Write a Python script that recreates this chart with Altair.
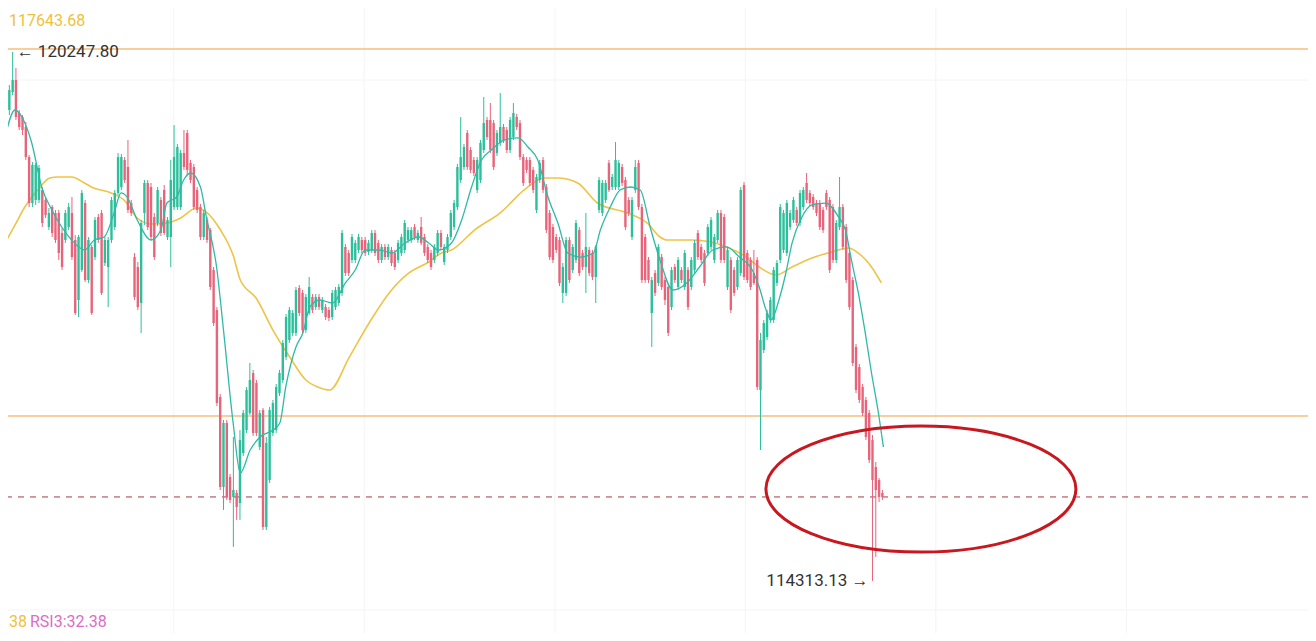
import altair as alt
import pandas as pd

# ---------------- candle data (BTC/USDT) ----------------
opens = [
    119294, 119597, 119799, 119933, 119563, 119518, 119406, 119069, 118553, 118587,
    118587, 118699, 118587, 118284, 118508, 118441, 118441, 118217, 118138, 118284,
    118441, 118138, 117465, 117802, 118553, 117689, 118060, 117947, 118396, 118441,
    117880, 117835, 118138, 118284, 118666, 118733, 119036, 118957, 118553, 117947,
    117835, 117431, 118441, 118778, 118733, 118396, 118329, 118587, 118699, 118172,
    118172, 118508, 118508, 118508, 119114, 119339, 119002, 118957, 118699, 118508,
    118172, 118363, 118250, 117802, 117353, 116377, 115367, 116085, 115479, 115255,
    115300, 115187, 115748, 116006, 116197, 116646, 116534, 115816, 116231, 114918,
    115445, 115973, 116006, 116421, 116567, 116825, 117016, 117095, 117095, 117600,
    117544, 117128, 117319, 117499, 117386, 117499, 117353, 117386, 117353, 117274,
    117386, 117431, 117544, 118060, 117992, 117914, 117914, 118026, 118138, 118138,
    118004, 118026, 118217, 118105, 117914, 118060, 117947, 118026, 117992, 117914,
    117992, 118026, 118138, 118138, 118284, 118138, 118284, 118172, 118060, 117992,
    117914, 117992, 118217, 117891, 118026, 118172, 118284, 118508, 118811, 118957,
    119339, 119148, 119036, 118699, 118811, 119148, 119485, 119485, 119451, 119114,
    119227, 119406, 119372, 119148, 119294, 119518, 119451, 119069, 119036, 119036,
    118924, 118475, 118811, 119036, 118733, 118441, 118284, 118172, 118138, 117544,
    117544, 118138, 117802, 117914, 118250, 117992, 117835, 118026, 117992, 117723,
    118475, 118441, 118587, 119002, 118733, 118733, 118733, 118957, 118811, 118587,
    118172, 118699, 119002, 118508, 118172, 117914, 117319, 117768, 117656, 117947,
    117689, 117611, 117386, 117835, 117611, 117802, 117611, 117802, 117611, 117802,
    118217, 118060, 117992, 117992, 118060, 117914, 118138, 118441, 118396, 117611,
    117914, 117802, 117611, 117768, 118755, 117992, 117914, 117768, 117914, 116455,
    116904, 117050, 117241, 117241, 117656, 117914, 118026, 117992, 118284, 118363,
    118475, 118329, 118508, 118778, 118666, 118621, 118553, 118553, 118475, 118666,
    118587, 118508, 117914, 118284, 118508, 118284, 117992, 117689, 116938, 116713,
    116489, 116343, 116197, 115894, 115591, 115445, 115300,
]
highs = [
    119821, 119877, 120247.80, 120068, 119597, 119541, 119462, 119092, 119013, 119002,
    118980, 118733, 118621, 118497, 118531, 118475, 118475, 118273, 118475, 118553,
    118621, 118194, 118194, 118699, 118587, 118172, 118082, 118396, 118430, 118475,
    118172, 118172, 118621, 118699, 119114, 119103, 119069, 119260, 118587, 117992,
    117891, 118363, 118811, 118811, 118778, 118441, 118733, 118621, 118755, 118396,
    119036, 119428, 119215, 119148, 119372, 119372, 119036, 118991, 118733, 118542,
    118475, 118396, 118273, 117835, 117386, 116410, 116119, 116119, 115513, 115928,
    115333, 116006, 116231, 116489, 116758, 116680, 116567, 116231, 116253, 115928,
    116264, 116343, 116522, 116680, 117016, 117308, 117386, 117353, 117611, 117633,
    117577, 117532, 117723, 117532, 117532, 117532, 117499, 117420, 117386, 117577,
    117611, 117644, 118250, 118093, 118026, 118206, 118138, 118206, 118172, 118172,
    118138, 118250, 118250, 118138, 118093, 118093, 118093, 118060, 118026, 118138,
    118206, 118363, 118284, 118284, 118318, 118250, 118396, 118206, 118093, 118026,
    118093, 118250, 118250, 118093, 118206, 118475, 118587, 118991, 119518, 119215,
    119372, 119182, 119069, 119069, 119260, 119743, 119518, 119675, 119485, 119372,
    119788, 119440, 119406, 119518, 119675, 119552, 119485, 119103, 119069, 119069,
    118957, 118879, 119036, 119069, 118766, 118475, 118318, 118206, 118172, 117880,
    118172, 118172, 118093, 118363, 118284, 118026, 118441, 118060, 118026, 118082,
    118845, 118811, 118811, 119036, 118879, 119238, 119036, 118991, 118845, 118621,
    118621, 119036, 119036, 118542, 118206, 117947, 117723, 117802, 118093, 117981,
    117723, 117644, 117835, 117869, 117947, 117835, 118026, 117835, 117947, 118138,
    118250, 118093, 118026, 118318, 118396, 118206, 118475, 118475, 118430, 118060,
    117947, 117835, 117947, 118733, 118789, 118026, 117947, 118026, 117947, 117095,
    117241, 117353, 117499, 117835, 117914, 118542, 118475, 118587, 118475, 118621,
    118508, 118699, 118733, 118890, 118699, 118654, 118587, 118587, 118508, 118699,
    118621, 118542, 118363, 118845, 118542, 118318, 118026, 117723, 116971, 116747,
    116522, 116377, 116231, 115950, 115647, 115468, 115333,
]
lows = [
    119260, 119541, 119765, 119485, 119372, 119316, 119036, 118508, 118508, 118531,
    118553, 118284, 118385, 118250, 118172, 118105, 117914, 117802, 118105, 118250,
    117914, 117297, 117274, 117779, 117667, 117656, 117297, 117914, 118105, 117521,
    117846, 117386, 118105, 118250, 118643, 118699, 118778, 118441, 118407, 117465,
    117353, 117095, 118306, 118250, 118138, 117914, 118295, 118183, 118194, 118138,
    117835, 118475, 118475, 118475, 118924, 118867, 118778, 118475, 118441, 118138,
    118138, 118105, 117577, 117173, 116276, 115333, 115109, 115221, 115187, 114694,
    114997, 114997, 115715, 115973, 116175, 115939, 115939, 115782, 114884, 114884,
    115412, 115939, 115973, 116388, 116534, 116792, 116983, 117061, 117061, 117285,
    117095, 117095, 117297, 117319, 117353, 117353, 117319, 117241, 117229, 117241,
    117353, 117398, 117510, 117734, 117734, 117880, 117880, 117992, 117992, 117959,
    117970, 117992, 117959, 117880, 117880, 117914, 117914, 117846, 117802, 117880,
    117959, 117992, 118105, 118105, 118138, 118105, 118082, 117959, 117880, 117802,
    117880, 117959, 118026, 117858, 117992, 118138, 118250, 118475, 118778, 118924,
    118924, 118890, 118856, 118666, 118778, 119114, 119260, 119114, 118924, 119081,
    119193, 119227, 119114, 119114, 119260, 119372, 119036, 118744, 118890, 118744,
    118666, 118441, 118778, 118666, 118217, 117914, 117880, 117992, 117622, 117431,
    117510, 117656, 117768, 117880, 117734, 117802, 117544, 117734, 117689, 117431,
    118441, 118407, 118553, 118677, 118699, 118699, 118699, 118744, 118250, 118407,
    118138, 118666, 118475, 117656, 117656, 117656, 116938, 117510, 117622, 117577,
    117409, 117061, 117353, 117656, 117577, 117656, 117577, 117353, 117577, 117768,
    117914, 117880, 117622, 117959, 118026, 117880, 118105, 117880, 117880, 117577,
    117319, 117510, 117577, 117734, 117689, 117656, 117577, 117633, 116455, 115782,
    116870, 117016, 117207, 117207, 117622, 117880, 117992, 117959, 118250, 118329,
    118295, 118295, 118475, 118553, 118520, 118475, 118407, 118250, 118217, 118475,
    117768, 117880, 117880, 118250, 118026, 117656, 117353, 116724, 116421, 116309,
    116163, 115894, 115636, 114313.13, 114582, 115199, 115221,
]
closes = [
    119765, 119821, 119933, 119518, 119406, 119372, 119069, 118553, 118980, 118980,
    118946, 118329, 118419, 118441, 118217, 118138, 117992, 117835, 118441, 118508,
    117947, 117319, 118172, 118666, 117689, 118138, 117319, 118363, 118138, 117544,
    118138, 118138, 118587, 118666, 119069, 119069, 118811, 118475, 118441, 117499,
    117386, 118329, 118778, 118284, 118172, 117947, 118699, 118217, 118217, 118363,
    118811, 119069, 119182, 119114, 118957, 118924, 118811, 118508, 118475, 118172,
    118441, 118138, 117611, 117207, 116309, 115367, 116085, 115255, 115221, 115333,
    115143, 115894, 116197, 116455, 116567, 115973, 115973, 116197, 114918, 115861,
    116231, 116309, 116489, 116646, 116983, 117274, 117353, 117319, 117577, 117319,
    117128, 117499, 117611, 117353, 117499, 117386, 117465, 117274, 117263, 117544,
    117577, 117611, 118217, 117768, 117768, 118172, 118105, 118172, 118026, 117992,
    118105, 118217, 117992, 117914, 118060, 117947, 118060, 117880, 117835, 118105,
    118172, 118329, 118250, 118250, 118172, 118217, 118105, 117992, 117914, 117835,
    118060, 118217, 118060, 118060, 118172, 118441, 118553, 118957, 119069, 119182,
    118957, 118924, 118890, 119036, 119227, 119451, 119294, 119148, 118957, 119339,
    119406, 119260, 119148, 119485, 119563, 119406, 119069, 118778, 118924, 118778,
    118699, 118845, 119002, 118699, 118250, 117947, 117914, 118026, 117656, 117835,
    118138, 117689, 118060, 118329, 117768, 117835, 118060, 117768, 117723, 118060,
    118811, 118778, 118778, 118699, 118845, 119036, 119002, 118778, 118284, 118441,
    118587, 118957, 118508, 117689, 117689, 117689, 117689, 117544, 118060, 117611,
    117465, 117095, 117802, 117689, 117914, 117689, 117992, 117386, 117914, 118105,
    117947, 117914, 117656, 118284, 118363, 118172, 118441, 117914, 117914, 118026,
    117353, 117544, 117914, 118699, 117723, 117689, 117611, 117656, 116489, 117016,
    117207, 117319, 117465, 117802, 117880, 118508, 118441, 118553, 118441, 118587,
    118329, 118666, 118699, 118587, 118553, 118508, 118441, 118284, 118250, 118508,
    117802, 117914, 118329, 118508, 118060, 117689, 117386, 116758, 116455, 116343,
    116197, 115928, 115670, 115445, 115333, 115255, 115255,
]

# short moving average (teal) and long moving average (yellow)
ma_short_bar = [-0.3, 2.7, 4.8, 7.8, 10.8, 13.9, 16.9, 19.9, 23.8, 26.8, 29.8, 32.8, 34.9, 36.7,
                39.8, 44.0, 47.0, 48.8, 51.8, 53.9, 56.0, 59.0, 60.8, 63.9, 66.0, 69.0, 71.1,
                74.1, 77.1, 81.0, 83.1, 84.9, 88.0, 90.1, 92.2, 95.2, 99.1, 103.0, 106.0, 109.0,
                113.3, 117.2, 121.1, 125.3, 128.3, 131.3, 135.2, 138.3, 141.3, 144.3, 147.3,
                151.2, 155.4, 158.4, 161.4, 164.5, 167.5, 170.5, 174.4, 178.3, 180.4, 183.4,
                186.4, 189.5, 192.5, 195.5, 198.5, 202.4, 206.6, 210.5, 214.5, 218.7, 222.6,
                226.5, 228.6, 230.7, 232.2, 234.6, 236.7, 238.6, 241.6, 244.6, 248.8, 252.7,
                254.8, 256.6, 258.7, 260.8, 262.7, 264.8, 266.3]
ma_short_val = [119294, 119597, 119518, 119227, 118733, 118475, 118284, 118138, 118026, 118138,
                118172, 118441, 118666, 118621, 118363, 118138, 118250, 118553, 118621, 118811,
                118890, 118733, 118396, 117835, 117128, 116062, 115524, 115782, 115928, 116006,
                116085, 116489, 116938, 117095, 117386, 117465, 117431, 117656, 117802, 118026,
                118026, 117992, 118105, 118172, 118105, 118026, 118105, 118363, 118733, 119036,
                119148, 119260, 119283, 119182, 119036, 118621, 118329, 117992, 117947, 117992,
                118250, 118508, 118699, 118733, 118699, 118284, 117914, 117577, 117656, 117835,
                118026, 118060, 117947, 117802, 117611, 117353, 117241, 117465, 117768, 118105,
                118396, 118531, 118553, 118396, 118250, 117914, 117544, 117095, 116646, 116197,
                115816]
ma_long_bar = [-0.3, 2.7, 5.7, 9.6, 13.3, 15.7, 19.9, 23.8, 25.9, 31.9, 35.8, 39.8, 44.0, 48.8,
               53.0, 57.8, 60.8, 65.1, 69.0, 71.1, 75.9, 81.0, 86.1, 91.0, 94.6, 98.2, 104.2,
               110.2, 116.3, 122.3, 128.3, 132.2, 135.2, 142.2, 150.3, 157.2, 163.3, 167.5,
               173.5, 179.5, 188.6, 194.6, 198.5, 200.6, 208.4, 218.7, 224.7, 228.6, 233.7,
               238.6, 244.6, 250.6, 255.7, 258.7, 262.7, 265.7]
ma_long_val = [118105, 118306, 118508, 118699, 118834, 118845, 118845, 118778, 118733, 118666,
               118587, 118385, 118318, 118329, 118385, 118497, 118452, 118250, 117959, 117689,
               117487, 117128, 116825, 116567, 116489, 116455, 116825, 117207, 117544, 117768,
               117891, 117992, 118026, 118250, 118452, 118699, 118834, 118834, 118778, 118553,
               118441, 118329, 118172, 118138, 118138, 118060, 117947, 117835, 117745, 117835,
               117936, 118004, 118048, 117992, 117835, 117656]

level_prices = [120281, 116163]      # orange horizontal levels
last_price = 115255                  # dashed current-price line
high_price = 120247.80
low_price = 114313.13
high_bar = 2
low_bar = 263
ellipse_bar = 277.7
ellipse_price = 115344
grid_bars = [50.9, 108.7, 166.6, 224.4, 282.2, 340.1]
grid_prices = [119933, 113987]

# ---------------- build tables ----------------
n = len(opens)
df = pd.DataFrame({
    "bar": list(range(n)), "open": opens, "high": highs, "low": lows, "close": closes,
})
df["dir"] = ["up" if c >= o else "down" for o, c in zip(opens, closes)]
ma_s = pd.DataFrame({"bar": ma_short_bar, "v": ma_short_val})
ma_l = pd.DataFrame({"bar": ma_long_bar, "v": ma_long_val})

GREEN = "#2cbf9b"
RED = "#e8647b"

xs = alt.Scale(domain=[2.1084, 393.6747], nice=False, zero=False)
ys = alt.Scale(domain=[113728.7, 120741.2], nice=False, zero=False)
cs = alt.Scale(domain=["up", "down"], range=[GREEN, RED])

base = alt.Chart(df)

# faint grid
grid_v = alt.Chart(pd.DataFrame({"bar": grid_bars})).mark_rule(
    color="#f4f4f4", strokeWidth=1).encode(x=alt.X("bar:Q", scale=xs, axis=None))
grid_h = alt.Chart(pd.DataFrame({"p": grid_prices})).mark_rule(
    color="#f4f4f4", strokeWidth=1).encode(y=alt.Y("p:Q", scale=ys, axis=None))

levels = alt.Chart(pd.DataFrame({"p": level_prices})).mark_rule(
    color="#f4bf7e", strokeWidth=1.6).encode(y=alt.Y("p:Q", scale=ys, axis=None))
dashed = alt.Chart(pd.DataFrame({"p": [last_price]})).mark_rule(
    color="#a33a48", strokeWidth=1, strokeDash=[6, 6]).encode(
    y=alt.Y("p:Q", scale=ys, axis=None))

wicks = base.mark_rule(strokeWidth=1, clip=True).encode(
    x=alt.X("bar:Q", scale=xs, axis=None),
    y=alt.Y("low:Q", scale=ys, axis=None),
    y2="high:Q",
    color=alt.Color("dir:N", scale=cs, legend=None),
)
bodies = base.mark_bar(width=2.4, clip=True).encode(
    x=alt.X("bar:Q", scale=xs, axis=None),
    y=alt.Y("open:Q", scale=ys, axis=None),
    y2="close:Q",
    color=alt.Color("dir:N", scale=cs, legend=None),
)

line_s = alt.Chart(ma_s).mark_line(color="#2fb9a6", strokeWidth=1.3, clip=True,
                                   interpolate="monotone").encode(
    x=alt.X("bar:Q", scale=xs, axis=None), y=alt.Y("v:Q", scale=ys, axis=None))
line_l = alt.Chart(ma_l).mark_line(color="#efc445", strokeWidth=1.6, clip=True,
                                   interpolate="monotone").encode(
    x=alt.X("bar:Q", scale=xs, axis=None), y=alt.Y("v:Q", scale=ys, axis=None))

k = 0.5523
r = 63 / 155
ell_path = (f"M -1 0 C -1 {-k*r:.4f} {-k:.4f} {-r:.4f} 0 {-r:.4f} "
            f"C {k:.4f} {-r:.4f} 1 {-k*r:.4f} 1 0 "
            f"C 1 {k*r:.4f} {k:.4f} {r:.4f} 0 {r:.4f} "
            f"C {-k:.4f} {r:.4f} -1 {k*r:.4f} -1 0 Z")
ellipse = alt.Chart(pd.DataFrame({"bar": [ellipse_bar], "p": [ellipse_price]})).mark_point(
    shape=ell_path, size=96100, filled=False, stroke="#c8171f", strokeWidth=3, opacity=1
).encode(x=alt.X("bar:Q", scale=xs, axis=None), y=alt.Y("p:Q", scale=ys, axis=None))

FONT = "Roboto"
hi_lbl = alt.Chart(pd.DataFrame({"bar": [high_bar], "p": [high_price],
                                 "t": ["← " + f"{high_price:.2f}"]})).mark_text(
    align="left", baseline="middle", dx=4, font=FONT, fontSize=17, color="#333333"
).encode(x=alt.X("bar:Q", scale=xs, axis=None), y=alt.Y("p:Q", scale=ys, axis=None), text="t:N")
lo_lbl = alt.Chart(pd.DataFrame({"bar": [low_bar], "p": [low_price],
                                 "t": [f"{low_price:.2f}" + " →"]})).mark_text(
    align="right", baseline="middle", dx=-4, font=FONT, fontSize=17, color="#333333"
).encode(x=alt.X("bar:Q", scale=xs, axis=None), y=alt.Y("p:Q", scale=ys, axis=None), text="t:N")

ma_lbl = alt.Chart(pd.DataFrame({"t": ["117643.68"]})).mark_text(
    align="left", baseline="middle", font=FONT, fontSize=16, color="#efc13a"
).encode(x=alt.value(1), y=alt.value(13), text="t:N")
rsi_a = alt.Chart(pd.DataFrame({"t": ["38"]})).mark_text(
    align="left", baseline="middle", font=FONT, fontSize=16, color="#efc13a"
).encode(x=alt.value(1), y=alt.value(614), text="t:N")
rsi_b = alt.Chart(pd.DataFrame({"t": ["RSI3:32.38"]})).mark_text(
    align="left", baseline="middle", font=FONT, fontSize=16, color="#dc6cc4"
).encode(x=alt.value(22), y=alt.value(614), text="t:N")

chart = alt.layer(
    grid_v, grid_h, levels, dashed, line_l, wicks, bodies, line_s, ellipse,
    hi_lbl, lo_lbl, ma_lbl, rsi_a, rsi_b
).properties(
    width=1300, height=625, padding=0,
    autosize=alt.AutoSizeParams(type="none"),
    background="white",
).configure_view(stroke=None)

chart.save("out.html", embed_options={"renderer": "svg", "actions": False})
